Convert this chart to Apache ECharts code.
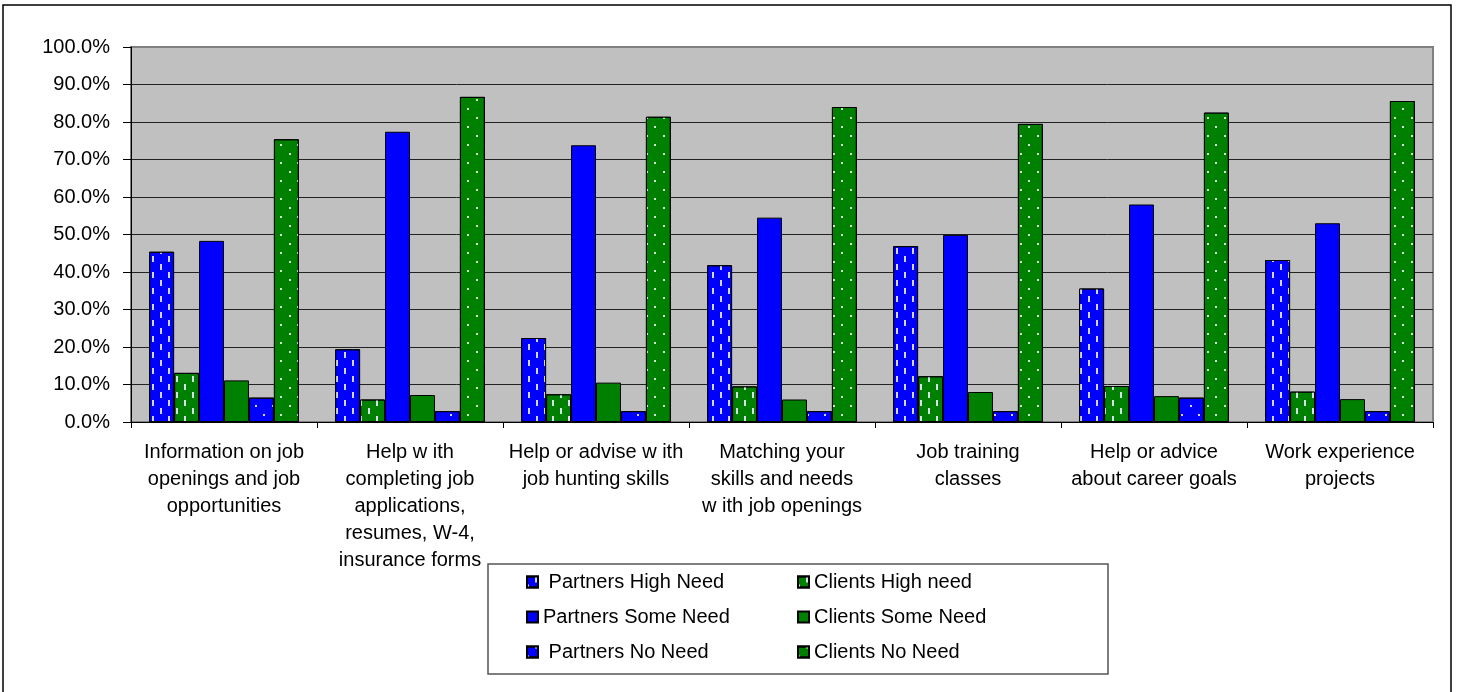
<!DOCTYPE html>
<html>
<head>
<meta charset="utf-8">
<script src="https://cdn.jsdelivr.net/npm/echarts@6/dist/echarts.min.js"></script>
<style>
  html, body { margin: 0; padding: 0; background: #fff; }
  #chart { width: 1458px; height: 692px; }
</style>
</head>
<body>
<div id="chart"></div>
<script>
const categories = [
  'Information on job\nopenings and job\nopportunities',
  'Help w ith\ncompleting job\napplications,\nresumes, W-4,\ninsurance forms',
  'Help or advise w ith\njob hunting skills',
  'Matching your\nskills and needs\nw ith job openings',
  'Job training\nclasses',
  'Help or advice\nabout career goals',
  'Work experience\nprojects'
]

const partnersHigh = [45.4, 19.4, 22.4, 41.8, 46.9, 35.6, 43.2]
const clientsHigh = [13.1, 6.0, 7.4, 9.5, 12.2, 9.6, 8.1]
const partnersSome = [48.3, 77.4, 73.8, 54.5, 49.9, 58.0, 53.0]
const clientsSome = [11.1, 7.2, 10.5, 6.0, 8.0, 6.9, 6.1]
const partnersNo = [6.5, 2.9, 2.9, 2.9, 2.9, 6.5, 2.9]
const clientsNo = [75.4, 86.7, 81.4, 84.0, 79.5, 82.5, 85.6]

const yTicks = [0, 10, 20, 30, 40, 50, 60, 70, 80, 90, 100]

const FONT = "'Liberation Sans', Arial, sans-serif"
const BLUE = '#0000FF'
const GREEN = '#008000'

// white vertical dashes, staggered
const dashDecal = {
  symbol: 'rect',
  symbolSize: 1,
  color: 'rgba(235,235,255,0.9)',
  dashArrayX: [[2, 14], [0, 8, 2, 6]],
  dashArrayY: [6, 2],
  rotation: 0
}
// small sparse dots
const dotDecal = {
  symbol: 'rect',
  symbolSize: 1,
  color: 'rgba(235,235,235,0.9)',
  dashArrayX: [[1.5, 14.5], [0, 8, 1.5, 6.5]],
  dashArrayY: [1.5, 6.5],
  rotation: 0
}

function bar(name, data, color, decal) {
  const itemStyle = { color: color, borderColor: '#000', borderWidth: 1 }
  if (decal) itemStyle.decal = decal
  return {
    name: name,
    type: 'bar',
    data: data,
    barGap: 0,
    barCategoryGap: '19.5%',
    itemStyle: itemStyle,
    emphasis: { disabled: true }
  }
}

const chart = echarts.init(document.getElementById('chart'))

chart.setOption({
  animation: false,
  textStyle: { fontFamily: FONT },
  grid: {
    left: 131,
    right: 25,
    top: 47,
    bottom: 270,
    show: true,
    backgroundColor: '#C0C0C0',
    borderColor: '#808080',
    borderWidth: 2
  },
  xAxis: {
    type: 'category',
    data: categories,
    axisLine: { lineStyle: { color: '#000', width: 1 } },
    axisTick: { show: true, length: 6, lineStyle: { color: '#000' } },
    axisLabel: {
      interval: 0,
      margin: 17,
      color: '#000',
      fontSize: 20,
      lineHeight: 27,
      fontFamily: FONT
    }
  },
  yAxis: {
    type: 'value',
    min: 0,
    max: 100,
    interval: 10,
    axisLine: { show: true, lineStyle: { color: '#000', width: 1 } },
    axisTick: { show: true, length: 8, lineStyle: { color: '#000' } },
    splitLine: { show: true, showMaxLine: false, lineStyle: { color: '#222', width: 1 } },
    axisLabel: {
      margin: 21,
      color: '#000',
      fontSize: 20,
      fontFamily: FONT,
      formatter: v => (yTicks.indexOf(v) >= 0 ? v.toFixed(1) + '%' : '')
    }
  },
  legend: {
    left: 488,
    top: 564,
    width: 540,
    padding: [8, 55, 12, 38],
    itemGap: 15,
    itemWidth: 11,
    itemHeight: 11,
    backgroundColor: '#fff',
    borderColor: '#555',
    borderWidth: 1.5,
    borderRadius: 0,
    icon: 'rect',
    formatter: name => (name === 'Partners High Need' || name === 'Partners No Need') ? ' ' + name : name,
    textStyle: {
      color: '#000',
      fontSize: 20,
      lineHeight: 15,
      width: 239,
      fontFamily: FONT
    }
  },
  graphic: [{
    type: 'rect',
    silent: true,
    shape: { x: 3, y: 5, width: 1448, height: 700 },
    style: { fill: null, stroke: '#000', lineWidth: 1.5 }
  }],
  series: [
    bar('Partners High Need', partnersHigh, BLUE, dashDecal),
    bar('Clients High need', clientsHigh, GREEN, dashDecal),
    bar('Partners Some Need', partnersSome, BLUE, null),
    bar('Clients Some Need', clientsSome, GREEN, null),
    bar('Partners No Need', partnersNo, BLUE, dotDecal),
    bar('Clients No Need', clientsNo, GREEN, dotDecal)
  ]
})
</script>
</body>
</html>
